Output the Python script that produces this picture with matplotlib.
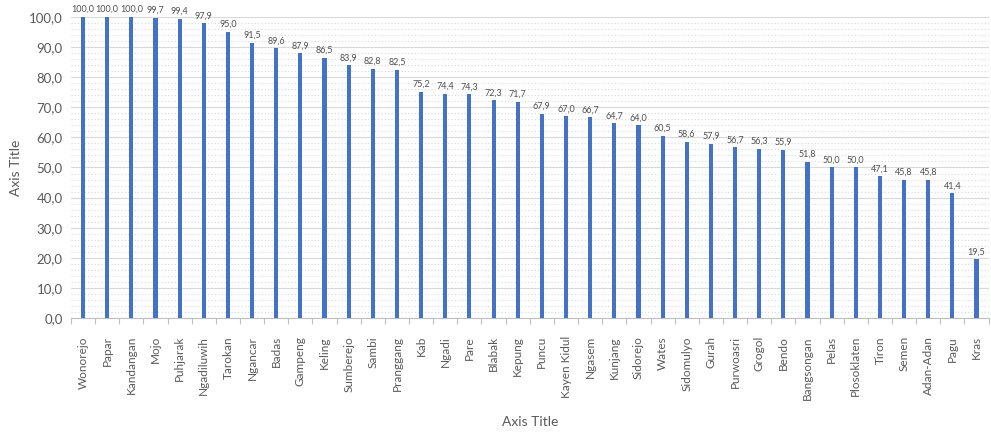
import matplotlib
matplotlib.use("Agg")
import matplotlib.pyplot as plt
from matplotlib.ticker import MultipleLocator, FuncFormatter

categories = ["Wonorejo", "Papar", "Kandangan", "Mojo", "Puhjarak", "Ngadiluwih",
              "Tarokan", "Ngancar", "Badas", "Gampeng", "Keling", "Sumberejo",
              "Sambi", "Pranggang", "Kab", "Ngadi", "Pare", "Blabak", "Kepung",
              "Puncu", "Kayen Kidul", "Ngasem", "Kunjang", "Sidorejo", "Wates",
              "Sidomulyo", "Gurah", "Purwoasri", "Grogol", "Bendo", "Bangsongan",
              "Pelas", "Plosoklaten", "Tiron", "Semen", "Adan-Adan", "Pagu", "Kras"]
values = [100.0, 100.0, 100.0, 99.7, 99.4, 97.9, 95.0, 91.5, 89.6, 87.9, 86.5,
          83.9, 82.8, 82.5, 75.2, 74.4, 74.3, 72.3, 71.7, 67.9, 67.0, 66.7, 64.7,
          64.0, 60.5, 58.6, 57.9, 56.7, 56.3, 55.9, 51.8, 50.0, 50.0, 47.1, 45.8,
          45.8, 41.4, 19.5]

plt.rcParams['font.family'] = ['Lato', 'DejaVu Sans']
text_color = '#595959'
bar_color = '#4472C4'

fig = plt.figure(figsize=(9.91, 4.32), dpi=100)
ax = fig.add_axes([0.0716, 0.264, 0.926, 0.6966])

x = list(range(len(categories)))
ax.bar(x, values, width=0.17, color=bar_color, zorder=3)

def comma(v, pos=None):
    return f"{v:.1f}".replace('.', ',')

for xi, v in zip(x, values):
    ax.text(xi, v + 1.0, comma(v), ha='center', va='bottom', fontsize=6.5,
            color='#505050', clip_on=False)

ax.set_xlim(-0.5, len(categories) - 0.5)
ax.set_ylim(0, 100)
ax.yaxis.set_major_locator(MultipleLocator(10))
ax.yaxis.set_minor_locator(MultipleLocator(2))
ax.yaxis.set_major_formatter(FuncFormatter(comma))
ax.grid(axis='y', which='major', color='#d9d9d9', linewidth=0.8, zorder=0)
ax.grid(axis='y', which='minor', color='#d9d9d9', linewidth=0.8,
        linestyle=(0, (1, 2)), zorder=0)

ax.set_xticks(x)
ax.set_xticklabels(categories, rotation=90, fontsize=8.5, color=text_color)
ax.set_xticks([i - 0.5 for i in range(len(categories) + 1)], minor=True)
ax.tick_params(axis='x', which='major', length=0, pad=13)
ax.tick_params(axis='x', which='minor', length=4, color='#bfbfbf', width=0.8)
ax.tick_params(axis='y', which='both', length=0, labelsize=9.5, labelcolor=text_color, pad=6)

for side in ['top', 'right', 'left']:
    ax.spines[side].set_visible(False)
ax.spines['bottom'].set_color('#bfbfbf')
ax.spines['bottom'].set_linewidth(0.8)

ax.set_xlabel('Axis Title', fontsize=10, color=text_color, labelpad=12)
ax.set_ylabel('Axis Title', fontsize=10, color=text_color, labelpad=5)

fig.savefig('out.png', dpi=100)
